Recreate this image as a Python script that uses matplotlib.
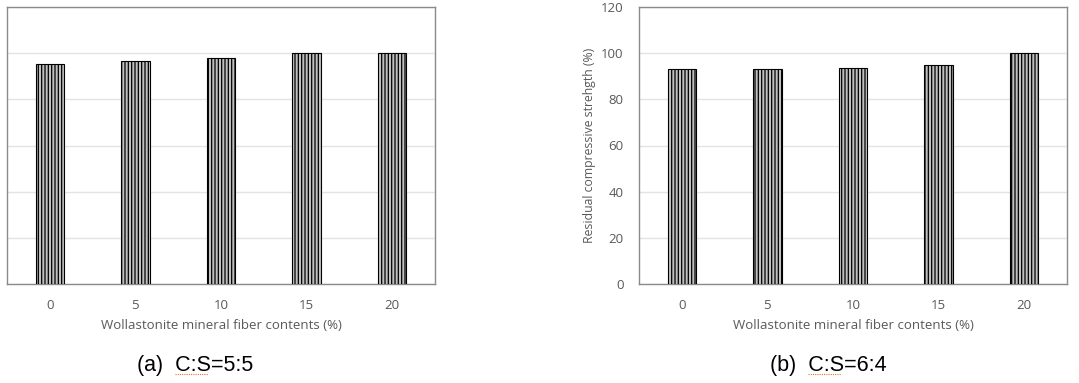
import matplotlib.pyplot as plt
from matplotlib.lines import Line2D
import numpy as np

# data
contents = ["0", "5", "10", "15", "20"]
strength_55 = [95.5, 96.5, 98.0, 100.0, 100.0]   # (a) C:S=5:5
strength_64 = [93.0, 93.0, 93.5, 95.0, 100.0]    # (b) C:S=6:4
y_ticks = [0, 20, 40, 60, 80, 100, 120]

plt.rcParams['font.family'] = ['Open Sans', 'DejaVu Sans']
plt.rcParams['hatch.linewidth'] = 0.9

W, H = 1079, 383
fig = plt.figure(figsize=(W / 100, H / 100), dpi=100)

txt_grey = "#595959"
spine_grey = "#8a8a8a"
grid_grey = "#e3e3e3"


def panel(rect, values, show_y):
    ax = fig.add_axes(rect)
    x = np.arange(len(contents))
    ax.bar(x, values, width=0.33, color="#c0c0c0", edgecolor="black",
           hatch="|" * 5, linewidth=0.8, zorder=3)
    ax.set_xlim(-0.5, len(contents) - 0.5)
    ax.set_ylim(0, 120)
    ax.set_yticks(y_ticks)
    ax.yaxis.grid(True, color=grid_grey, linewidth=1.0, zorder=0)
    ax.set_axisbelow(True)
    ax.set_xticks(x)
    ax.set_xticklabels(contents)
    ax.tick_params(length=0, colors=txt_grey, labelsize=9.5)
    ax.tick_params(axis="x", pad=11)
    ax.tick_params(axis="y", pad=11)
    if not show_y:
        ax.set_yticklabels([])
    for s in ax.spines.values():
        s.set_color(spine_grey)
        s.set_linewidth(1.0)
    ax.set_xlabel("Wollastonite mineral fiber contents (%)", fontsize=9.5,
                  color=txt_grey, labelpad=5)
    return ax


ax1 = panel([7 / W, 99 / H, 428 / W, 277 / H], strength_55, False)
ax2 = panel([639 / W, 99 / H, 428 / W, 277 / H], strength_64, True)
ax2.set_ylabel("Residual compressive strehgth (%)", fontsize=8.8,
               color=txt_grey, labelpad=4)

cap_font = ['Liberation Sans Narrow', 'Liberation Sans', 'DejaVu Sans']
fig.text(137 / W, 1 - 365 / H, "(a)  C:S=5:5", fontsize=15.5, va="center",
         ha="left", family=cap_font, color="black")
fig.text(770 / W, 1 - 365 / H, "(b)  C:S=6:4", fontsize=15.5, va="center",
         ha="left", family=cap_font, color="black")

# spell-check squiggles under "C:S"
for x0, x1 in [(175, 208), (808, 841)]:
    fig.add_artist(Line2D([x0 / W, x1 / W], [1 - 374 / H, 1 - 374 / H],
                          transform=fig.transFigure, color="#e8703a",
                          linewidth=0.8, linestyle=(0, (1, 1))))

fig.savefig("out.png", dpi=100)
